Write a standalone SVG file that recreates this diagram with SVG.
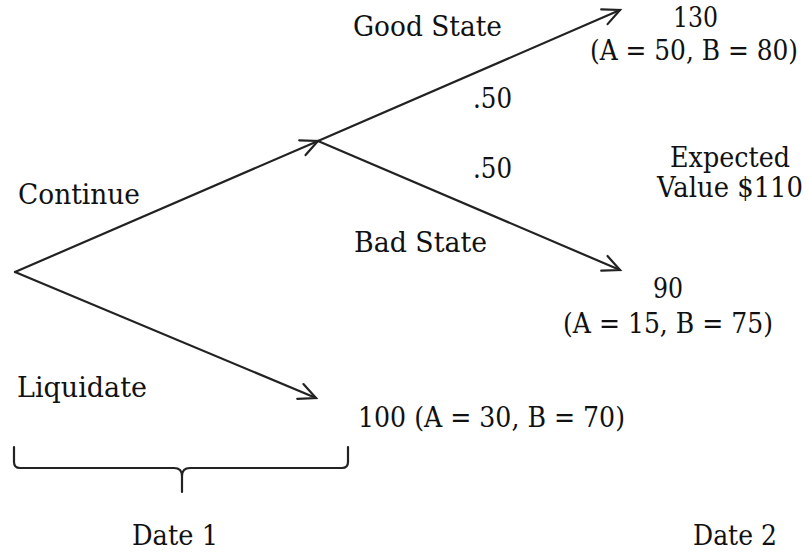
<svg xmlns="http://www.w3.org/2000/svg" width="810" height="552" viewBox="0 0 810 552">
<style>
text{font-family:"DejaVu Serif","Liberation Serif",serif;font-size:27px;fill:#111}
.ln{stroke:#222;stroke-width:2.2;fill:none;stroke-linecap:round}
</style>
<defs>
<marker id="ah" markerUnits="userSpaceOnUse" viewBox="-20 -10 22 20" refX="0" refY="0" markerWidth="22" markerHeight="20" orient="auto" overflow="visible">
<path d="M-17,-8 L0,0 L-17,8" fill="none" stroke="#222" stroke-width="2.2" stroke-linecap="round" stroke-linejoin="miter"/>
</marker>
</defs>
<rect width="810" height="552" fill="#fff"/>
<g id="connectors">
<line class="ln" x1="15" y1="272" x2="318" y2="141" marker-end="url(#ah)"/>
<line class="ln" x1="15" y1="272" x2="316" y2="398" marker-end="url(#ah)"/>
<line class="ln" x1="318" y1="141" x2="620" y2="10" marker-end="url(#ah)"/>
<line class="ln" x1="318" y1="141" x2="620" y2="270" marker-end="url(#ah)"/>
</g>
<g id="labels">
<text x="18" y="204" textLength="122" lengthAdjust="spacingAndGlyphs">Continue</text>
<text x="17" y="397" textLength="130" lengthAdjust="spacingAndGlyphs">Liquidate</text>
<text x="353" y="36" textLength="149" lengthAdjust="spacingAndGlyphs">Good State</text>
<text x="354" y="252" textLength="133" lengthAdjust="spacingAndGlyphs">Bad State</text>
<text x="473" y="108" textLength="39" lengthAdjust="spacingAndGlyphs">.50</text>
<text x="473" y="178" textLength="39" lengthAdjust="spacingAndGlyphs">.50</text>
</g>
<g id="node-good">
<text x="673" y="27" textLength="45" lengthAdjust="spacingAndGlyphs">130</text>
<text x="590" y="60" textLength="208" lengthAdjust="spacingAndGlyphs">(A = 50, B = 80)</text>
</g>
<g id="node-expected">
<text x="670" y="167" textLength="120" lengthAdjust="spacingAndGlyphs">Expected</text>
<text x="657" y="197" textLength="146" lengthAdjust="spacingAndGlyphs">Value $110</text>
</g>
<g id="node-bad">
<text x="653" y="298" textLength="30" lengthAdjust="spacingAndGlyphs">90</text>
<text x="563" y="333" textLength="210" lengthAdjust="spacingAndGlyphs">(A = 15, B = 75)</text>
</g>
<g id="node-liquidate">
<text x="358" y="427" textLength="267" lengthAdjust="spacingAndGlyphs">100 (A = 30, B = 70)</text>
</g>
<g id="brace">
<path class="ln" d="M14,447 L14,462 Q14,468 20,468 L174,468 Q182,468 182,476 L182,492 M182,476 Q182,468 190,468 L342,468 Q348,468 348,462 L348,447"/>
</g>
<g id="dates">
<text x="132" y="545" textLength="86" lengthAdjust="spacingAndGlyphs">Date 1</text>
<text x="693" y="545" textLength="84" lengthAdjust="spacingAndGlyphs">Date 2</text>
</g>
</svg>
